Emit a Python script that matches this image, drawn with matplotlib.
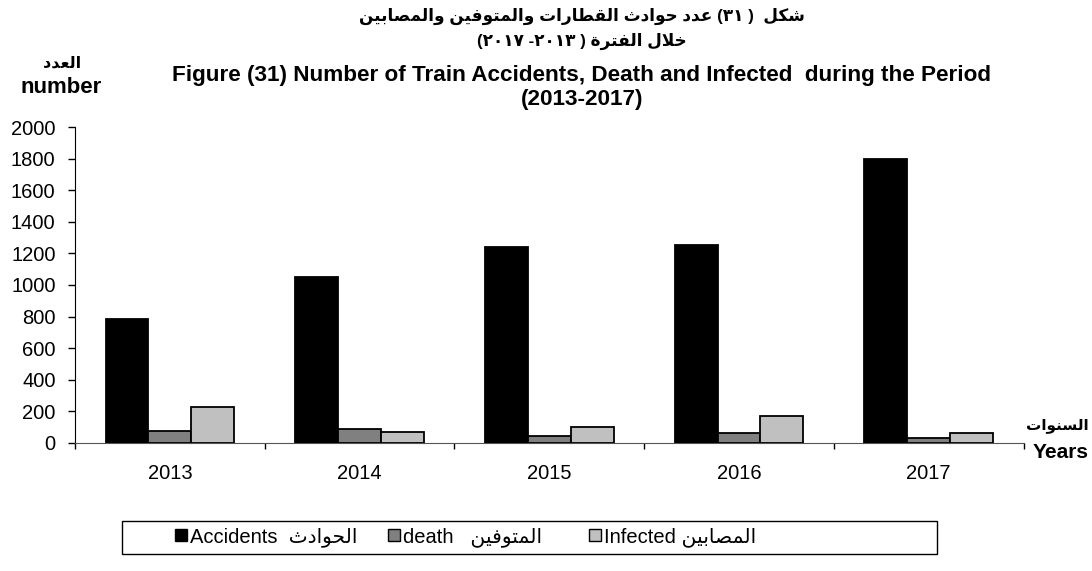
import matplotlib
matplotlib.use("Agg")
import matplotlib.pyplot as plt
from matplotlib.patches import Patch, Rectangle
import numpy as np

# ---------------- data ----------------
years = ["2013", "2014", "2015", "2016", "2017"]
accidents = [787, 1048, 1238, 1252, 1797]
death = [76, 87, 43, 63, 28]
infected = [228, 68, 101, 167, 63]
series_labels_en = ["Accidents", "death", "Infected"]
series_labels_ar = ["الحوادث", "المتوفين", "المصابين"]
yticks = [0, 200, 400, 600, 800, 1000, 1200, 1400, 1600, 1800, 2000]

title_ar_1 = "شكل  ( ٣١) عدد حوادث القطارات والمتوفين والمصابين"
title_ar_2 = "خلال الفترة ( ٢٠١٣- ٢٠١٧)"
title_en_1 = "Figure (31) Number of Train Accidents, Death and Infected  during the Period"
title_en_2 = "(2013-2017)"
ylab_ar, ylab_en = "العدد", "number"
xlab_ar, xlab_en = "السنوات", "Years"

# ---------------- simple Arabic shaping + visual ordering ----------------
FORMS = {
    'ا': (0xFE8D, 0xFE8E, None, None), 'ب': (0xFE8F, 0xFE90, 0xFE91, 0xFE92),
    'ة': (0xFE93, 0xFE94, None, None), 'ت': (0xFE95, 0xFE96, 0xFE97, 0xFE98),
    'ث': (0xFE99, 0xFE9A, 0xFE9B, 0xFE9C), 'ج': (0xFE9D, 0xFE9E, 0xFE9F, 0xFEA0),
    'ح': (0xFEA1, 0xFEA2, 0xFEA3, 0xFEA4), 'خ': (0xFEA5, 0xFEA6, 0xFEA7, 0xFEA8),
    'د': (0xFEA9, 0xFEAA, None, None), 'ذ': (0xFEAB, 0xFEAC, None, None),
    'ر': (0xFEAD, 0xFEAE, None, None), 'ز': (0xFEAF, 0xFEB0, None, None),
    'س': (0xFEB1, 0xFEB2, 0xFEB3, 0xFEB4), 'ش': (0xFEB5, 0xFEB6, 0xFEB7, 0xFEB8),
    'ص': (0xFEB9, 0xFEBA, 0xFEBB, 0xFEBC), 'ض': (0xFEBD, 0xFEBE, 0xFEBF, 0xFEC0),
    'ط': (0xFEC1, 0xFEC2, 0xFEC3, 0xFEC4), 'ظ': (0xFEC5, 0xFEC6, 0xFEC7, 0xFEC8),
    'ع': (0xFEC9, 0xFECA, 0xFECB, 0xFECC), 'غ': (0xFECD, 0xFECE, 0xFECF, 0xFED0),
    'ف': (0xFED1, 0xFED2, 0xFED3, 0xFED4), 'ق': (0xFED5, 0xFED6, 0xFED7, 0xFED8),
    'ك': (0xFED9, 0xFEDA, 0xFEDB, 0xFEDC), 'ل': (0xFEDD, 0xFEDE, 0xFEDF, 0xFEE0),
    'م': (0xFEE1, 0xFEE2, 0xFEE3, 0xFEE4), 'ن': (0xFEE5, 0xFEE6, 0xFEE7, 0xFEE8),
    'ه': (0xFEE9, 0xFEEA, 0xFEEB, 0xFEEC), 'و': (0xFEED, 0xFEEE, None, None),
    'ى': (0xFEEF, 0xFEF0, None, None), 'ي': (0xFEF1, 0xFEF2, 0xFEF3, 0xFEF4),
}


def dual(c):
    return c in FORMS and FORMS[c][2] is not None


def shape(s):
    out = []
    i = 0
    n = len(s)
    while i < n:
        c = s[i]
        if c not in FORMS:
            out.append(c)
            i += 1
            continue
        prev = s[i - 1] if i > 0 else ''
        jp = dual(prev)
        if c == 'ل' and i + 1 < n and s[i + 1] == 'ا':
            out.append(chr(0xFEFC if jp else 0xFEFB))
            i += 2
            continue
        nxt = s[i + 1] if i + 1 < n else ''
        jn = dual(c) and nxt in FORMS
        iso, fin, ini, med = FORMS[c]
        if jp and jn:
            code = med
        elif jp:
            code = fin
        elif jn:
            code = ini
        else:
            code = iso
        out.append(chr(code))
        i += 1
    return ''.join(out)


MIRROR = {'(': ')', ')': '('}


def is_ltr(c):
    return c.isdigit() or ('A' <= c <= 'Z') or ('a' <= c <= 'z')


def visual(s):
    s = shape(s)
    tokens = []
    for c in s:
        kind = is_ltr(c)
        if tokens and tokens[-1][0] == kind:
            tokens[-1][1].append(c)
        else:
            tokens.append([kind, [c]])
    res = []
    for kind, chars in reversed(tokens):
        if kind:
            res.append(''.join(chars))
        else:
            res.append(''.join(MIRROR.get(ch, ch) for ch in reversed(chars)))
    return ''.join(res)


FAM = ['Liberation Sans', 'DejaVu Sans']
plt.rcParams['font.family'] = FAM

# ---------------- figure ----------------
W, H = 1092, 571
fig = plt.figure(figsize=(W / 100, H / 100), dpi=100)
L, R, T, B = 75, 1023.5, 127.3, 442.7
ax = fig.add_axes([L / W, 1 - B / H, (R - L) / W, (B - T) / H])

x = np.arange(len(years))
bw = 0.226
colors = ["#000000", "#808080", "#C0C0C0"]
for k, vals in enumerate([accidents, death, infected]):
    ax.bar(x + (k - 1) * bw, vals, width=bw, color=colors[k],
           edgecolor="black", linewidth=1.3, zorder=3)

ax.set_xlim(-0.5, len(years) - 0.5)
ax.set_ylim(0, 2000)
ax.set_yticks(yticks)
ax.tick_params(axis='y', labelsize=14.5, length=5, width=1, direction='out', pad=9)
ax.set_xticks(np.arange(len(years) + 1) - 0.5)
ax.set_xticklabels([])
ax.tick_params(axis='x', which='major', length=4.5, width=1, direction='out')
ax.set_xticks(x, minor=True)
ax.set_xticklabels(years, minor=True)
ax.tick_params(axis='x', which='minor', length=0, labelsize=14.5, pad=15)
for sp in ['top', 'right']:
    ax.spines[sp].set_visible(False)
ax.spines['left'].set_color('black')
ax.spines['bottom'].set_color('#555555')

# ---------------- titles ----------------
cx = 582 / W
fig.text(cx, 1 - 16 / H, visual(title_ar_1), ha='center', va='center',
         fontsize=12.2, fontweight='bold', family=FAM)
fig.text(cx, 1 - 41 / H, visual(title_ar_2), ha='center', va='center',
         fontsize=12.2, fontweight='bold', family=FAM)
fig.text(cx, 1 - 75 / H, title_en_1, ha='center', va='center',
         fontsize=16.2, fontweight='bold', family=FAM)
fig.text(cx, 1 - 100 / H, title_en_2, ha='center', va='center',
         fontsize=16.2, fontweight='bold', family=FAM)

fig.text(62 / W, 1 - 63 / H, visual(ylab_ar), ha='center', va='center',
         fontsize=11.5, fontweight='bold', family=FAM)
fig.text(61 / W, 1 - 88 / H, ylab_en, ha='center', va='center',
         fontsize=16, fontweight='bold', family=FAM)
fig.text(1089 / W, 1 - 426 / H, visual(xlab_ar), ha='right', va='center',
         fontsize=11, fontweight='bold', family=FAM)
fig.text(1089 / W, 1 - 452 / H, xlab_en, ha='right', va='center',
         fontsize=15, fontweight='bold', family=FAM)

# ---------------- legend ----------------
fig.patches.append(Rectangle((122 / W, 1 - 554 / H), 815 / W, 33 / H,
                             transform=fig.transFigure, facecolor='white',
                             edgecolor='black', linewidth=1.0, zorder=0))
handles = [Patch(facecolor=colors[k], edgecolor='black', linewidth=1.0)
           for k in range(3)]
labels = [f"{series_labels_en[0]}  {visual(series_labels_ar[0])}",
          f"{series_labels_en[1]}   {visual(series_labels_ar[1])}   ",
          f"{series_labels_en[2]} {visual(series_labels_ar[2])}"]
fig.legend(handles, labels, loc='center left', bbox_to_anchor=(175 / W, 1 - 537 / H),
           ncol=3, frameon=False, fontsize=14.5, handlelength=0.6, handleheight=0.6,
           handletextpad=0.15, columnspacing=1.5, borderpad=0, borderaxespad=0)

fig.savefig("out.png", dpi=100)
